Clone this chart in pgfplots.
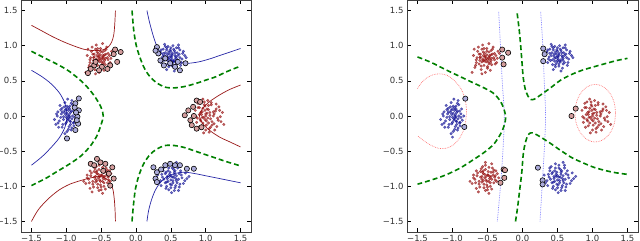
\documentclass[border=0pt]{standalone}
\usepackage{pgfplots}
\pgfplotsset{compat=1.18}
\usepackage{pgfplotstable}
\usepackage{fontspec}
\setmainfont{DejaVu Sans}
\definecolor{ptred}{rgb}{0.58,0.04,0.04}
\definecolor{ptblue}{rgb}{0.06,0.06,0.58}
\definecolor{lnred}{rgb}{0.6,0.1,0.1}
\definecolor{lnblue}{rgb}{0.15,0.15,0.65}
\definecolor{gdash}{rgb}{0,0.5,0}
\definecolor{dotred}{rgb}{1,0.45,0.45}
\definecolor{dotblue}{rgb}{0.45,0.45,1}

\pgfplotstableread{
x y
-0.52 0.82
-0.60 0.88
-0.45 0.79
-0.55 0.72
-0.48 0.91
-0.66 0.80
-0.38 0.86
-0.58 0.95
-0.50 0.70
-0.42 0.98
-0.62 0.74
-0.53 0.85
-0.47 0.84
-0.70 0.86
-0.35 0.92
-0.56 0.79
-0.44 0.73
-0.64 0.92
-0.51 0.96
-0.59 0.66
-0.40 0.80
-0.33 0.89
-0.68 0.69
-0.54 0.89
-0.46 0.65
-0.61 0.83
-0.49 0.77
-0.57 1.01
-0.37 0.76
-0.72 0.62
-0.43 0.88
-0.63 0.98
-0.53 0.62
-0.30 0.95
-0.66 0.76
-0.48 1.03
-0.56 0.86
-0.41 0.83
-0.58 0.60
-0.45 0.93
-0.50 0.80
-0.54 0.84
-0.57 0.81
-0.47 0.86
-0.52 0.77
-0.49 0.83
-0.55 0.78
-0.60 0.84
-0.44 0.82
-0.51 0.87
-0.58 0.77
-0.46 0.76
-0.53 0.80
-0.62 0.88
-0.40 0.89
-0.56 0.91
-0.48 0.74
-0.65 0.83
-0.43 0.95
-0.59 0.71
-0.51 0.92
-0.36 0.82
-0.67 0.72
-0.50 0.68
-0.61 0.79
-0.45 0.87
-0.55 0.96
-0.39 0.74
-0.69 0.95
-0.47 0.81
}\tlred
\pgfplotstableread{
x y
0.50 0.85
0.42 0.90
0.58 0.82
0.46 0.78
0.55 0.93
0.38 0.84
0.62 0.88
0.52 0.74
0.44 0.97
0.60 0.76
0.35 0.91
0.48 0.88
0.56 0.86
0.66 0.81
0.40 0.79
0.53 1.00
0.47 0.70
0.63 0.94
0.36 0.76
0.57 0.68
0.45 0.85
0.70 0.86
0.51 0.81
0.41 1.02
0.59 0.90
0.33 0.87
0.54 0.77
0.49 0.94
0.64 0.72
0.43 0.73
0.61 1.01
0.39 0.95
0.52 0.89
0.68 0.92
0.46 0.99
0.55 0.64
0.37 0.81
0.58 0.97
0.50 0.79
0.44 0.66
0.48 0.83
0.52 0.87
0.55 0.80
0.45 0.88
0.50 0.92
0.57 0.84
0.43 0.80
0.53 0.78
0.47 0.91
0.60 0.86
0.41 0.86
0.51 0.84
0.58 0.79
0.46 0.82
0.54 0.95
0.63 0.83
0.39 0.89
0.49 0.76
0.56 0.90
0.44 0.94
0.67 0.89
0.52 0.71
0.36 0.94
0.61 0.97
0.47 0.73
0.58 0.74
0.42 0.99
0.65 0.76
0.50 0.97
0.72 0.83
}\trblue
\pgfplotstableread{
x y
-0.97 0.00
-1.03 0.05
-0.92 -0.04
-1.00 -0.09
-0.95 0.10
-1.08 -0.02
-0.88 0.03
-0.99 0.14
-1.05 -0.12
-0.90 -0.10
-1.12 0.06
-0.94 0.05
-1.01 0.02
-0.86 -0.06
-1.06 0.11
-0.96 -0.15
-0.91 0.16
-1.10 -0.07
-0.98 -0.04
-1.15 -0.12
-0.93 -0.20
-1.02 0.19
-0.87 0.10
-1.07 0.03
-0.97 0.08
-0.99 -0.22
-1.13 0.00
-0.89 -0.14
-1.04 -0.05
-0.95 -0.01
-0.84 0.00
-1.09 0.15
-1.00 -0.30
-0.92 0.22
-1.11 -0.16
-0.94 -0.08
-0.96 0.02
-1.00 -0.02
-0.93 0.07
-0.98 -0.06
-1.02 0.08
-0.95 -0.07
-0.91 0.00
-1.04 -0.01
-0.97 0.12
-0.99 0.04
-0.94 -0.12
-1.06 0.06
-0.90 0.07
-1.01 -0.11
-0.96 -0.03
-1.08 0.09
-0.92 -0.17
-1.03 0.13
-0.88 -0.02
-1.14 0.03
-0.97 -0.19
-0.93 0.18
-1.06 -0.16
-1.00 0.10
-1.17 -0.05
-0.95 0.14
-1.02 -0.25
-0.89 -0.09
-1.12 -0.10
-0.98 0.24
}\lblue
\pgfplotstableread{
x y
1.00 0.00
0.93 0.05
1.07 -0.04
0.96 -0.10
1.04 0.09
0.88 -0.03
1.12 0.03
0.99 0.14
1.09 -0.13
0.91 0.12
1.18 -0.06
1.02 0.04
0.95 -0.02
1.15 0.10
0.85 0.08
1.05 -0.18
0.98 0.20
1.21 -0.01
0.90 -0.16
1.08 0.16
1.01 -0.07
1.26 -0.12
0.94 0.02
1.13 -0.20
1.03 0.22
0.87 -0.09
1.11 0.06
0.97 -0.24
1.19 0.13
1.06 0.01
0.92 -0.05
1.24 0.05
0.99 0.08
1.16 -0.15
0.89 0.18
1.04 -0.10
1.00 0.03
0.97 -0.02
1.03 -0.03
0.95 0.06
1.06 0.05
0.99 -0.05
1.02 0.10
0.93 -0.07
1.09 -0.08
0.96 0.11
1.11 0.00
1.01 -0.13
0.91 0.02
1.14 0.07
0.98 0.16
1.07 -0.16
0.89 0.12
1.17 -0.03
1.04 0.15
0.94 -0.14
1.20 0.08
1.00 -0.20
0.86 -0.01
1.12 -0.11
1.08 0.19
0.92 0.20
1.22 -0.08
1.05 -0.23
0.96 0.24
1.15 0.17
}\rred
\pgfplotstableread{
x y
-0.52 -0.86
-0.45 -0.80
-0.58 -0.90
-0.48 -0.93
-0.60 -0.79
-0.40 -0.87
-0.55 -0.97
-0.65 -0.85
-0.43 -0.74
-0.50 -1.01
-0.62 -0.93
-0.36 -0.82
-0.54 -0.83
-0.47 -0.89
-0.68 -0.90
-0.57 -0.72
-0.41 -0.95
-0.53 -1.06
-0.72 -0.96
-0.38 -0.78
-0.49 -0.84
-0.61 -1.01
-0.44 -0.68
-0.66 -0.78
-0.51 -0.93
-0.34 -0.88
-0.56 -0.78
-0.63 -1.08
-0.46 -1.00
-0.70 -0.84
-0.53 -0.70
-0.39 -0.91
-0.58 -0.86
-0.48 -1.10
-0.75 -0.93
-0.42 -0.84
-0.50 -0.84
-0.54 -0.88
-0.47 -0.86
-0.56 -0.82
-0.52 -0.91
-0.49 -0.79
-0.58 -0.94
-0.44 -0.90
-0.53 -0.76
-0.60 -0.87
-0.46 -0.95
-0.57 -0.80
-0.42 -0.80
-0.51 -0.98
-0.64 -0.81
-0.39 -0.85
-0.55 -1.02
-0.48 -0.73
-0.67 -0.95
-0.45 -0.86
-0.59 -0.75
-0.37 -0.93
-0.62 -0.97
-0.50 -1.05
-0.70 -0.88
-0.41 -0.77
-0.56 -0.92
-0.66 -1.03
-0.53 -0.66
-0.44 -1.04
}\blred
\pgfplotstableread{
x y
0.50 -0.85
0.43 -0.80
0.57 -0.89
0.46 -0.93
0.54 -0.76
0.38 -0.87
0.62 -0.82
0.51 -0.98
0.41 -0.72
0.59 -0.95
0.35 -0.92
0.48 -0.86
0.55 -0.83
0.66 -0.88
0.44 -1.00
0.52 -0.70
0.31 -0.84
0.60 -0.74
0.47 -1.05
0.70 -0.92
0.39 -0.78
0.56 -1.02
0.63 -0.97
0.45 -0.89
0.53 -0.92
0.28 -0.90
0.58 -0.66
0.49 -0.80
0.64 -0.78
0.42 -0.95
0.76 -0.86
0.51 -1.09
0.36 -0.99
0.61 -1.06
0.47 -0.74
0.54 -0.87
0.48 -0.83
0.52 -0.87
0.45 -0.86
0.55 -0.80
0.50 -0.91
0.58 -0.85
0.42 -0.82
0.53 -0.95
0.46 -0.78
0.61 -0.90
0.40 -0.90
0.56 -0.78
0.49 -0.97
0.65 -0.84
0.44 -0.94
0.57 -0.99
0.37 -0.83
0.52 -0.74
0.68 -0.96
0.43 -1.03
0.60 -0.70
0.33 -0.95
0.55 -1.06
0.71 -0.81
0.47 -0.68
0.62 -1.01
0.39 -0.74
0.50 -1.02
0.73 -0.89
0.58 -0.92
}\brblue

\pgfplotsset{
  panel/.style={
    scale only axis, width=230pt, height=232pt, anchor=south west,
    xmin=-1.65, xmax=1.65, ymin=-1.65, ymax=1.65,
    xtick={-1.5,-1,-0.5,0,0.5,1,1.5},
    ytick={-1.5,-1,-0.5,0,0.5,1,1.5},
    xticklabels={−1.5,−1.0,−0.5,0.0,0.5,1.0,1.5},
    yticklabels={−1.5,−1.0,−0.5,0.0,0.5,1.0,1.5},
    tick label style={font=\fontsize{8.5}{10}\selectfont, text=black!80},
    major tick length=4pt,
    tick style={black, line width=0.5pt},
    axis line style={black!75, line width=0.7pt},
    clip=true,
  },
  redpts/.style={only marks, mark=*, mark size=1.3pt, color=ptred, fill opacity=0.6, draw opacity=0.6},
  bluepts/.style={only marks, mark=*, mark size=1.3pt, color=ptblue, fill opacity=0.6, draw opacity=0.6},
  redsv/.style={only marks, mark=*, mark size=2.6pt, mark options={fill=ptred!40!white, draw=black, line width=0.6pt}},
  bluesv/.style={only marks, mark=*, mark size=2.6pt, mark options={fill=ptblue!35!white, draw=black, line width=0.6pt}},
  gline/.style={no markers, smooth, gdash, line width=1.6pt, dash pattern=on 5pt off 3pt},
  rline/.style={no markers, smooth, lnred, line width=0.7pt},
  bline/.style={no markers, smooth, lnblue, line width=0.7pt},
  rdot/.style={no markers, smooth, dotred, line width=0.7pt, dash pattern=on 0.7pt off 1pt},
  bdot/.style={no markers, smooth, dotblue, line width=0.7pt, dash pattern=on 0.7pt off 1pt},
}

\begin{document}
\begin{tikzpicture}[x=1pt,y=1pt]
\path[use as bounding box] (0,0) rectangle (640,241);
% ---------------- left panel ----------------
\begin{axis}[panel, at={(21pt,9pt)}]
\addplot[rline] coordinates {(-1.5,1.29) (-1.35,1.21) (-1.2,1.13) (-1.05,1.06) (-0.9,1.0) (-0.75,0.95) (-0.6,0.93) (-0.48,0.94) (-0.4,0.98) (-0.35,1.05) (-0.32,1.15) (-0.305,1.3) (-0.295,1.5)};
\addplot[bline] coordinates {(0.157,1.5) (0.19,1.35) (0.23,1.2) (0.27,1.07) (0.32,0.95) (0.4,0.85) (0.5,0.79) (0.62,0.76) (0.75,0.75) (0.9,0.77) (1.05,0.81) (1.2,0.86) (1.35,0.91) (1.5,0.96)};
\addplot[rline] coordinates {(1.5,0.44) (1.35,0.38) (1.2,0.30) (1.05,0.2) (0.95,0.1) (0.91,0.0) (0.95,-0.1) (1.05,-0.2) (1.2,-0.3) (1.35,-0.37) (1.5,-0.44)};
\addplot[bline] coordinates {(-1.5,0.65) (-1.35,0.56) (-1.22,0.46) (-1.1,0.33) (-1.02,0.18) (-0.99,0.0) (-1.02,-0.16) (-1.1,-0.31) (-1.22,-0.45) (-1.35,-0.58) (-1.5,-0.70)};
\addplot[rline] coordinates {(-1.5,-1.5) (-1.4,-1.33) (-1.25,-1.17) (-1.1,-1.05) (-0.95,-0.97) (-0.8,-0.92) (-0.65,-0.88) (-0.52,-0.86) (-0.43,-0.89) (-0.37,-0.95) (-0.33,-1.05) (-0.31,-1.2) (-0.30,-1.35) (-0.295,-1.5)};
\addplot[bline] coordinates {(0.157,-1.5) (0.18,-1.35) (0.22,-1.2) (0.27,-1.07) (0.33,-0.97) (0.42,-0.88) (0.55,-0.82) (0.7,-0.80) (0.85,-0.82) (1.0,-0.85) (1.15,-0.88) (1.3,-0.91) (1.5,-0.95)};
\addplot[gline] coordinates {(-1.5,0.92) (-1.3,0.82) (-1.1,0.72) (-0.95,0.63) (-0.8,0.51) (-0.68,0.39) (-0.58,0.26) (-0.5,0.12) (-0.47,0.0) (-0.5,-0.12) (-0.56,-0.28) (-0.65,-0.42) (-0.78,-0.56) (-0.95,-0.68) (-1.15,-0.80) (-1.3,-0.89) (-1.5,-0.99)};
\addplot[gline] coordinates {(-0.057,1.5) (-0.045,1.35) (-0.03,1.2) (0.0,1.02) (0.05,0.85) (0.12,0.68) (0.2,0.56) (0.3,0.47) (0.42,0.41) (0.55,0.40) (0.7,0.42) (0.85,0.46) (1.0,0.51) (1.15,0.56) (1.3,0.63) (1.5,0.71)};
\addplot[gline] coordinates {(-0.057,-1.5) (-0.04,-1.3) (-0.01,-1.05) (0.04,-0.85) (0.11,-0.68) (0.2,-0.55) (0.3,-0.47) (0.42,-0.42) (0.55,-0.42) (0.7,-0.45) (0.85,-0.50) (1.0,-0.55) (1.15,-0.60) (1.3,-0.65) (1.5,-0.71)};
\addplot[redpts] table {\tlred};
\addplot[bluepts] table {\trblue};
\addplot[bluepts] table {\lblue};
\addplot[redpts] table {\rred};
\addplot[redpts] table {\blred};
\addplot[bluepts] table {\brblue};
\addplot[redsv] coordinates {(-0.22,0.91) (-0.30,0.945) (-0.32,0.88) (-0.27,0.77) (-0.37,0.72) (-0.41,0.67) (-0.49,0.70) (-0.53,0.65) (-0.60,0.72) (-0.65,0.67) (-0.69,0.61) (-0.58,0.77)};
\addplot[bluesv] coordinates {(0.30,0.98) (0.32,0.89) (0.35,0.79) (0.42,0.82) (0.49,0.75) (0.56,0.70) (0.63,0.65) (0.71,0.75) (0.60,0.77) (0.28,0.93) (0.40,0.72)};
\addplot[bluesv] coordinates {(-0.82,0.25) (-0.87,0.18) (-0.82,0.08) (-0.84,-0.01) (-0.83,-0.11) (-0.87,-0.20) (-0.99,-0.32) (-0.88,0.12) (-0.86,0.05) (-0.85,-0.06)};
\addplot[redsv] coordinates {(0.87,0.22) (0.82,0.13) (0.75,0.08) (0.70,0.01) (0.78,-0.06) (0.80,-0.13) (0.87,-0.18) (0.94,-0.16) (0.92,0.20) (0.83,0.00)};
\addplot[redsv] coordinates {(-0.56,-0.61) (-0.51,-0.66) (-0.44,-0.68) (-0.34,-0.73) (-0.39,-0.82) (-0.32,-0.89) (-0.37,-0.99) (-0.65,-0.68) (-0.47,-0.78) (-0.60,-0.70)};
\addplot[bluesv] coordinates {(0.25,-0.73) (0.30,-0.80) (0.28,-0.89) (0.30,-0.94) (0.42,-0.70) (0.49,-0.68) (0.56,-0.70) (0.63,-0.70) (0.73,-0.75) (0.83,-0.75) (0.36,-0.76)};
\end{axis}
% ---------------- right panel ----------------
\begin{axis}[panel, at={(407pt,9pt)}, width=231pt]
\addplot[bdot] coordinates {(-0.34,1.48) (-0.315,1.0) (-0.29,0.5) (-0.26,0.0) (-0.28,-0.5) (-0.315,-1.0) (-0.36,-1.5)};
\addplot[bdot] coordinates {(0.26,1.48) (0.29,1.0) (0.31,0.5) (0.33,0.0) (0.31,-0.5) (0.28,-1.0) (0.25,-1.5)};
\addplot[rdot] coordinates {(-1.5,0.39) (-1.42,0.50) (-1.32,0.57) (-1.2,0.60) (-1.08,0.58) (-0.97,0.50) (-0.88,0.39) (-0.82,0.24) (-0.80,0.08) (-0.81,-0.06) (-0.84,-0.20) (-0.91,-0.33) (-1.0,-0.42) (-1.1,-0.46) (-1.2,-0.46) (-1.3,-0.42) (-1.4,-0.36) (-1.5,-0.28)};
\addplot[rdot] coordinates {(1.33,0.04) (1.313,0.180) (1.262,0.304) (1.185,0.395) (1.090,0.444) (0.990,0.444) (0.895,0.395) (0.818,0.304) (0.767,0.180) (0.75,0.04) (0.767,-0.100) (0.818,-0.224) (0.895,-0.315) (0.990,-0.364) (1.090,-0.364) (1.185,-0.315) (1.262,-0.224) (1.313,-0.100) (1.33,0.04)};
\addplot[gline] coordinates {(-1.5,0.84) (-1.3,0.76) (-1.1,0.66) (-0.89,0.56) (-0.7,0.47) (-0.55,0.40) (-0.41,0.32) (-0.31,0.2) (-0.26,0.08) (-0.24,-0.02) (-0.26,-0.13) (-0.31,-0.25) (-0.41,-0.40) (-0.55,-0.52) (-0.7,-0.62) (-0.89,-0.74) (-1.1,-0.84) (-1.3,-0.91) (-1.5,-0.97)};
\addplot[gline] coordinates {(-0.076,1.46) (-0.05,1.25) (-0.03,1.05) (-0.01,0.8) (0.01,0.55) (0.04,0.38) (0.08,0.28) (0.12,0.235) (0.17,0.24) (0.26,0.30) (0.4,0.40) (0.545,0.51) (0.7,0.59) (0.85,0.65) (1.02,0.70) (1.2,0.75) (1.35,0.79) (1.5,0.82)};
\addplot[gline] coordinates {(-0.10,-1.5) (-0.07,-1.3) (-0.04,-1.05) (-0.01,-0.8) (0.01,-0.55) (0.04,-0.38) (0.08,-0.27) (0.12,-0.24) (0.17,-0.25) (0.26,-0.30) (0.4,-0.39) (0.545,-0.49) (0.7,-0.59) (0.85,-0.66) (1.02,-0.73) (1.2,-0.78) (1.35,-0.81) (1.5,-0.83)};
\addplot[redpts] table {\tlred};
\addplot[bluepts] table {\trblue};
\addplot[bluepts] table {\lblue};
\addplot[redpts] table {\rred};
\addplot[redpts] table {\blred};
\addplot[bluepts] table {\brblue};
\addplot[redsv] coordinates {(-0.29,0.945) (-0.205,0.90) (-0.29,0.83) (-0.27,0.735) (0.76,0.105) (0.70,0.0) (-0.27,-0.76) (-0.25,-0.77) (-0.26,-0.88) (-0.315,-0.95)};
\addplot[bluesv] coordinates {(0.296,0.96) (0.316,0.88) (0.296,0.78) (-0.817,0.247) (-0.831,-0.156) (0.22,-0.735) (0.287,-0.915) (0.287,-0.973)};
\end{axis}
\end{tikzpicture}
\end{document}
